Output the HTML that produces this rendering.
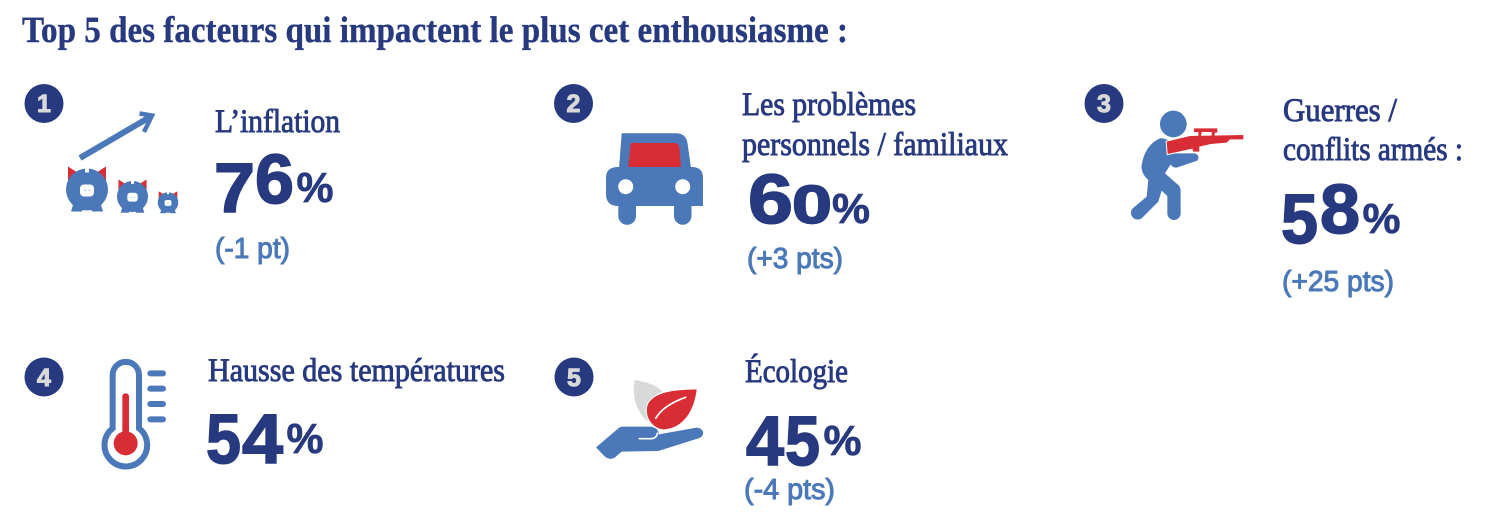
<!DOCTYPE html>
<html lang="fr">
<head>
<meta charset="utf-8">
<title>Top 5 des facteurs</title>
<style>
html,body{margin:0;padding:0;background:#fff;width:1498px;height:524px;overflow:hidden}
svg{display:block}
text{text-rendering:geometricPrecision}
.title{font:700 37px "Liberation Serif",serif;fill:#27397f;stroke:#27397f;stroke-width:.4px}
.label{font:400 33px "Liberation Serif",serif;fill:#27397f;stroke:#27397f;stroke-width:.9px}
.num{font:700 70px "Liberation Sans",sans-serif;fill:#27397f;stroke:#27397f;stroke-width:1.6px}
.pct{font:700 42px "Liberation Sans",sans-serif;fill:#27397f;stroke:#27397f;stroke-width:.7px}
.delta{font:400 29px "Liberation Sans",sans-serif;fill:#4b78b8;stroke:#4b78b8;stroke-width:1px}
.badge-num{font:700 25px "Liberation Sans",sans-serif;fill:#d9d9d9;stroke:#d9d9d9;stroke-width:1px;text-anchor:middle}
.blue{fill:#4b78b8}.red{fill:#d92d35}.white{fill:#fff}
</style>
</head>
<body>
<svg xmlns="http://www.w3.org/2000/svg" width="1498" height="524" viewBox="0 0 1498 524">
<defs>
<g id="pig">
  <path class="red" d="M-19,-23 L-19,-9 L-8,-16 Z M19,-23 L19,-9 L8,-16 Z"/>
  <path class="blue" d="M-13,12 L-16,22 L-5,22 L-3,18 L3,18 L5,22 L16,22 L13,12 Z"/>
  <circle class="blue" cx="0" cy="0" r="21"/>
  <rect class="white" x="-2" y="-21" width="4" height="4"/>
  <rect class="white" x="-7" y="-5" width="14" height="12" rx="4"/>
  <circle class="blue" cx="-2" cy="1" r="1" opacity=".35"/>
  <circle class="blue" cx="2.500" cy="1" r="1" opacity=".35"/>
</g>
</defs>

<text class="title" x="22" y="42" textLength="826" lengthAdjust="spacingAndGlyphs">Top 5 des facteurs qui impactent le plus cet enthousiasme :</text>

<!-- 1 -->
<g>
  <circle cx="44" cy="103.500" r="19.500" fill="#27397f"/>
  <text class="badge-num" x="44" y="112">1</text>
  <g>
    <path d="M80,158 L150,117" stroke="#4b78b8" stroke-width="6" fill="none"/>
    <path d="M139.500,113.500 L152,115.500 L144,132" stroke="#4b78b8" stroke-width="4.500" fill="none"/>
    <use href="#pig" transform="translate(87,189.500)"/>
    <use href="#pig" transform="translate(132.500,196.500) scale(.74)"/>
    <use href="#pig" transform="translate(168,202.500) scale(.49)"/>
  </g>
  <text class="label" x="215" y="132" textLength="125" lengthAdjust="spacingAndGlyphs">L’inflation</text>
  <text class="num" x="214" y="212" textLength="41" lengthAdjust="spacingAndGlyphs">7</text>
  <text class="num" x="255" y="203" textLength="39" lengthAdjust="spacingAndGlyphs">6</text>
  <text class="pct" x="296.500" y="202" textLength="37" lengthAdjust="spacingAndGlyphs">%</text>
  <text class="delta" x="215" y="258" textLength="75" lengthAdjust="spacingAndGlyphs">(-1 pt)</text>
</g>

<!-- 2 -->
<g>
  <circle cx="573.500" cy="103.500" r="19.500" fill="#27397f"/>
  <text class="badge-num" x="573.500" y="112">2</text>
  <g>
    <path class="blue" d="M621.700,133.300 L677,133.300 Q686,134 687.500,143 L691,168 L619,168 Z"/>
    <path class="red" d="M630.700,143 L675,143 Q679,143 679.500,148 L681,167 L628.300,167 Z"/>
    <path class="blue" d="M618,167 L692,167 Q703,167 703,178 L703,206 L691.500,206 L691.500,216 A8.700,8.700 0 0 1 674,216 L674,206 L636,206 L636,216 A8.700,8.700 0 0 1 618.300,216 L618.300,206 Q606,206 606,194 L606,178 Q606,167 618,167 Z"/>
    <circle class="white" cx="625.700" cy="186.700" r="7.500"/>
    <circle class="white" cx="682.700" cy="186.700" r="7.500"/>
  </g>
  <text class="label" x="742" y="115" textLength="174" lengthAdjust="spacingAndGlyphs">Les problèmes</text>
  <text class="label" x="742" y="155" textLength="266" lengthAdjust="spacingAndGlyphs">personnels / familiaux</text>
  <text class="num" x="748" y="223" textLength="45" lengthAdjust="spacingAndGlyphs">6</text>
  <text class="num" x="792" y="223" textLength="40" lengthAdjust="spacingAndGlyphs" style="font-size:54px">0</text>
  <text class="pct" x="832" y="223" textLength="38" lengthAdjust="spacingAndGlyphs">%</text>
  <text class="delta" x="747" y="268" textLength="96" lengthAdjust="spacingAndGlyphs">(+3 pts)</text>
</g>

<!-- 3 -->
<g>
  <circle cx="1104" cy="103.500" r="19.500" fill="#27397f"/>
  <text class="badge-num" x="1104" y="112">3</text>
  <g transform="translate(1070,70) scale(.3333)">
    <circle class="blue" cx="310" cy="162" r="40"/>
    <path class="blue" d="M270,205 Q285,203 300,215 L305,250 L375,250 Q392,258 382,272 L320,293 Q308,293 302,283 L285,310 L325,345 Q332,352 332,365 L332,430 A20,20 0 0 1 292,430 L292,378 L275,362 L265,395 L218,442 A20,20 0 0 1 188,415 L230,380 L235,330 Q212,310 215,285 Q225,225 270,205 Z"/>
    <path class="red" stroke="#fff" stroke-width="6" paint-order="stroke" d="M290,215 L360,198 L520,195 L520,208 L480,208 L470,218 L422,222 L388,230 L388,245 L370,245 L367,236 L293,252 Z"/>
    <path class="red" d="M372,175 L442,175 L442,188 L435,188 L433,198 L425,198 L425,186 L395,186 L393,198 L385,198 L385,186 L372,186 Z"/>
  </g>
  <text class="label" x="1283" y="121" textLength="114" lengthAdjust="spacingAndGlyphs">Guerres /</text>
  <text class="label" x="1283" y="160" textLength="180" lengthAdjust="spacingAndGlyphs">conflits armés :</text>
  <text class="num" x="1281" y="243" textLength="37" lengthAdjust="spacingAndGlyphs">5</text>
  <text class="num" x="1320" y="233" textLength="40" lengthAdjust="spacingAndGlyphs">8</text>
  <text class="pct" x="1362.500" y="233" textLength="38" lengthAdjust="spacingAndGlyphs">%</text>
  <text class="delta" x="1282" y="291" textLength="112" lengthAdjust="spacingAndGlyphs">(+25 pts)</text>
</g>

<!-- 4 -->
<g>
  <circle cx="44" cy="377" r="19.500" fill="#27397f"/>
  <text class="badge-num" x="44" y="386">4</text>
  <g transform="translate(0,340) scale(.3333)">
    <path d="M338,265 L338,105 A39.500,39.500 0 0 1 417,105 L417,265 A64,64 0 1 1 338,265 Z" fill="#fff" stroke="#4b78b8" stroke-width="18"/>
    <circle class="red" cx="377" cy="310" r="36"/>
    <rect class="red" x="367" y="160" width="20" height="150" rx="9"/>
    <rect class="blue" x="442" y="91" width="56" height="18" rx="9"/>
    <rect class="blue" x="442" y="137" width="56" height="18" rx="9"/>
    <rect class="blue" x="442" y="183" width="56" height="18" rx="9"/>
    <rect class="blue" x="442" y="229" width="56" height="18" rx="9"/>
  </g>
  <text class="label" x="208" y="381" textLength="297" lengthAdjust="spacingAndGlyphs">Hausse des températures</text>
  <text class="num" x="206" y="463" textLength="35" lengthAdjust="spacingAndGlyphs">5</text>
  <text class="num" x="242" y="463" textLength="41" lengthAdjust="spacingAndGlyphs">4</text>
  <text class="pct" x="286.500" y="453" textLength="37" lengthAdjust="spacingAndGlyphs">%</text>
</g>

<!-- 5 -->
<g>
  <circle cx="574" cy="377" r="19.500" fill="#27397f"/>
  <text class="badge-num" x="574" y="386">5</text>
  <g transform="translate(540,340) scale(.3333)">
    <path fill="#d9d9d9" d="M285,120 C335,128 360,145 368,155 C335,165 316,195 325,245 C295,225 272,170 285,120 Z"/>
    <path class="red" stroke="#fff" stroke-width="6" paint-order="stroke" d="M470,148 C420,150 350,150 325,190 C310,225 335,265 370,268 C440,265 465,195 470,148 Z"/>
    <path d="M347,235 C365,205 400,185 437,172" stroke="#fff" stroke-width="5" fill="none" stroke-linecap="round"/>
    <path class="blue" d="M168,322 L235,265 Q240,260 250,260 L330,260 C350,262 356,272 356,283 L470,263 C495,265 495,290 475,295 L355,333 L245,335 L225,352 Q210,362 195,350 Z"/>
    <path d="M298,296 L335,296 Q350,294 352,280" stroke="#fff" stroke-width="5" fill="none" stroke-linecap="round"/>
  </g>
  <text class="label" x="745" y="382" textLength="103" lengthAdjust="spacingAndGlyphs">Écologie</text>
  <text class="num" x="746" y="465" textLength="38" lengthAdjust="spacingAndGlyphs">4</text>
  <text class="num" x="785" y="465" textLength="35" lengthAdjust="spacingAndGlyphs">5</text>
  <text class="pct" x="823.500" y="455" textLength="38" lengthAdjust="spacingAndGlyphs">%</text>
  <text class="delta" x="744" y="499" textLength="91" lengthAdjust="spacingAndGlyphs">(-4 pts)</text>
</g>
</svg>
</body>
</html>
